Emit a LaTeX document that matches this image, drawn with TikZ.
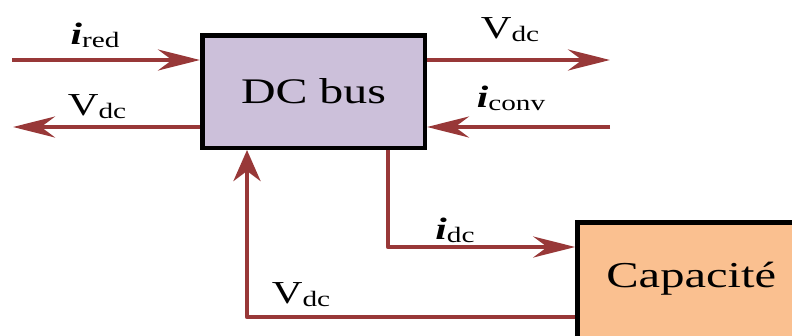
\documentclass[tikz,border=0pt]{standalone}
\usepackage{fontspec}
\setmainfont{Liberation Serif}
\newfontfamily\tnr{Liberation Serif}
\usetikzlibrary{arrows.meta}
\definecolor{arrred}{RGB}{152,56,56}
\definecolor{busfill}{RGB}{204,192,218}
\definecolor{capfill}{RGB}{250,192,144}
\newcommand{\wide}[1]{\scalebox{1.33}[1]{#1}}
\newcommand{\vsig}[1]{\wide{{\fontsize{32}{32}\selectfont V}\raisebox{-3pt}{\fontsize{22}{22}\selectfont #1}}}
\newcommand{\isig}[1]{\wide{{\fontsize{31}{31}\selectfont\bfseries\itshape i}\raisebox{-3pt}{\fontsize{22}{22}\selectfont #1}}}
\begin{document}
\begin{tikzpicture}[x=1pt,y=-1pt,
  arr/.style={draw=arrred,line width=4.5pt,-{Stealth[length=42pt,width=21pt,inset=14pt]}},
  arrv/.style={draw=arrred,line width=4.5pt,-{Stealth[length=31pt,width=27pt,inset=10pt]}},
  blk/.style={draw=black,line width=4.5pt,rectangle,inner sep=0pt},
  lbl/.style={inner sep=0pt,anchor=base,font=\tnr}]
\useasboundingbox (0,0) rectangle (792,335);
\clip (0,0) rectangle (792,335);
\node[blk,fill=busfill,minimum width=222.5pt,minimum height=112.5pt,
      font=\tnr\fontsize{36}{36}\selectfont] (bus) at (313.5,91.5) {\wide{DC bus}};
\node[blk,fill=capfill,minimum width=227.5pt,minimum height=125pt,
      text height=26pt,text depth=22pt,
      font=\tnr\fontsize{36.5}{36.5}\selectfont] (cap) at (691.25,285) {\wide{Capacité}};
\coordinate (l1) at (12,60);
\coordinate (l2) at (13,127);
\coordinate (r1) at (610,60);
\coordinate (r2) at (610,127);
\coordinate (c2) at (388,247);
\coordinate (c1) at (247,317);
\draw[arr] (l1) -- (bus.west |- l1);
\draw[arr] (bus.west |- l2) -- (l2);
\draw[arr] (bus.east |- r1) -- (r1);
\draw[arr] (r2) -- (bus.east |- r2);
\draw[arr,line join=round] (bus.south -| c2) -- (c2) -- (cap.west |- c2);
\draw[arrv,line join=round] (cap.west |- c1) -- (c1) -- (bus.south -| c1);
\node[lbl] (tired) at (95,44) {\isig{red}};
\node[lbl] (tvl) at (97,115) {\vsig{dc}};
\node[lbl] (tvr) at (510,38) {\vsig{dc}};
\node[lbl] (ticonv) at (511,107) {\isig{conv}};
\node[lbl] (tidc) at (455,239) {\isig{dc}};
\node[lbl] (tvb) at (301,303) {\vsig{dc}};
\end{tikzpicture}
\end{document}
